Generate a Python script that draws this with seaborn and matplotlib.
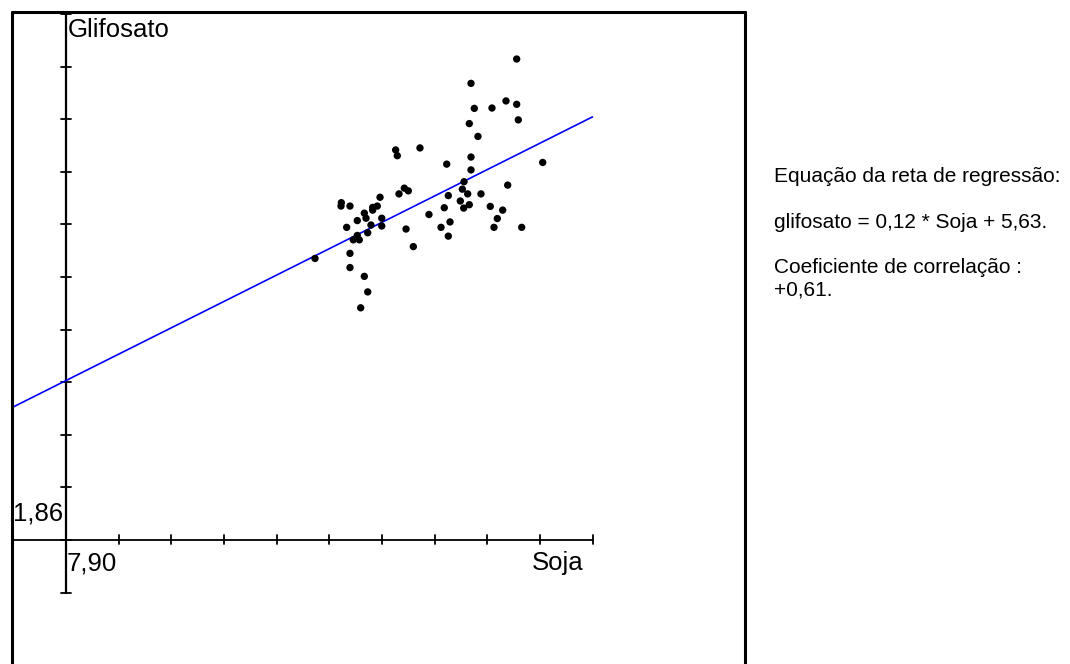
import matplotlib
matplotlib.use("Agg")
import matplotlib.pyplot as plt
from matplotlib.lines import Line2D
import pandas as pd
import seaborn as sns

# data
soja = [48.60, 48.80, 51.60, 63.54, 57.90, 58.31, 60.49, 62.22, 63.54, 63.74,
        57.69, 58.76, 57.90, 54.90, 57.90, 66.75, 41.89, 41.85, 42.96, 46.67,
        49.01, 49.67, 50.16, 44.73, 45.76, 46.33, 45.76, 44.94, 43.86, 46.88,
        45.55, 46.88, 42.55, 45.15, 43.86, 43.37, 44.11, 38.64, 42.96, 42.96,
        44.73, 45.15, 44.28, 49.88, 50.78, 52.71, 57.04, 56.83, 57.49, 55.10,
        59.13, 62.43, 56.58, 57.69, 57.00, 54.60, 60.28, 61.81, 61.15, 55.31,
        54.20, 60.74, 64.16, 55.10]
glifosato = [13.40, 13.23, 13.46, 16.09, 15.37, 14.63, 14.64, 14.85, 14.75, 14.29,
             14.18, 13.80, 13.19, 12.98, 12.81, 13.03, 11.84, 11.74, 11.74, 12.00,
             12.10, 12.27, 12.19, 11.53, 11.70, 11.74, 11.62, 11.38, 11.31, 11.38,
             11.18, 11.15, 11.11, 10.95, 10.87, 10.74, 10.74, 10.19, 10.34, 9.92,
             9.66, 9.20, 8.73, 11.06, 10.54, 11.49, 12.46, 12.24, 12.10, 12.05,
             12.10, 12.36, 11.89, 11.78, 11.68, 11.69, 11.73, 11.62, 11.37, 11.27,
             11.11, 11.11, 11.11, 10.85]
slope, intercept = 0.12, 5.63
x0, y0 = 7.90, 1.86
x_step, y_step = 6.5, 1.556
x_label, y_label = "Soja", "Glifosato"
info = ["Equação da reta de regressão:",
        "glifosato = 0,12 * Soja + 5,63.",
        "Coeficiente de correlação :",
        "+0,61."]

W, H = 1070, 664
ox, oy = 66, 540          # pixel position of the origin
sx, sy = 8.1, 33.8        # pixels per unit

sns.set_style("white")
plt.rcParams["font.family"] = ["Liberation Sans", "DejaVu Sans"]
plt.rcParams["text.color"] = "black"

fig = plt.figure(figsize=(W / 100, H / 100), dpi=100)
ax = fig.add_axes([0, 0, 1, 1])
ax.set_xlim(x0 - ox / sx, x0 + (W - ox) / sx)
ax.set_ylim(y0 - (H - oy) / sy, y0 + oy / sy)
ax.axis("off")

# axes with crossing ticks
xt = [x0 + k * x_step for k in range(-1, 11)]
yt = [y0 + k * y_step for k in range(-1, 11)]
ax.plot([xt[0], xt[-1]], [y0, y0], color="black", lw=1.3)
ax.plot([x0, x0], [yt[0], yt[-1]], color="black", lw=1.6)
for t in xt:
    ax.plot([t, t], [y0 - 4 / sy, y0 + 5 / sy], color="black", lw=1.3)
for t in yt:
    ax.plot([x0 - 5 / sx, x0 + 5 / sx], [t, t], color="black", lw=1.3)

# regression line
xl = [x0 - 54 / sx, xt[-1]]
line = pd.DataFrame({"x": xl, "y": [slope * v + intercept for v in xl]})
sns.lineplot(data=line, x="x", y="y", color="#0000ff", lw=1.2, ax=ax)

df = pd.DataFrame({"Soja": soja, "Glifosato": glifosato})
sns.scatterplot(data=df, x="Soja", y="Glifosato", color="black", s=28,
                edgecolor="none", ax=ax, zorder=3)

# outer frame
def fx(p): return p / W
def fy(p): return 1 - p / H
fig.add_artist(Line2D([fx(12), fx(12)], [0, fy(12)], color="black", lw=2.2))
fig.add_artist(Line2D([fx(12), fx(745)], [fy(12), fy(12)], color="black", lw=2.2))
fig.add_artist(Line2D([fx(745), fx(745)], [0, fy(12)], color="black", lw=2.2))

fs = 18.5
fig.text(fx(68), fy(37), y_label, fontsize=fs, va="baseline")
fig.text(fx(13), fy(520), f"{y0:.2f}".replace(".", ","), fontsize=fs, va="baseline")
fig.text(fx(67), fy(570), f"{x0:.2f}".replace(".", ","), fontsize=fs, va="baseline")
fig.text(fx(583), fy(570), x_label, fontsize=fs, va="baseline", ha="right")

for txt, b in zip(info, [182, 228, 273, 295]):
    fig.text(fx(774), fy(b), txt, fontsize=15, va="baseline")

fig.savefig("out.png", dpi=100)
